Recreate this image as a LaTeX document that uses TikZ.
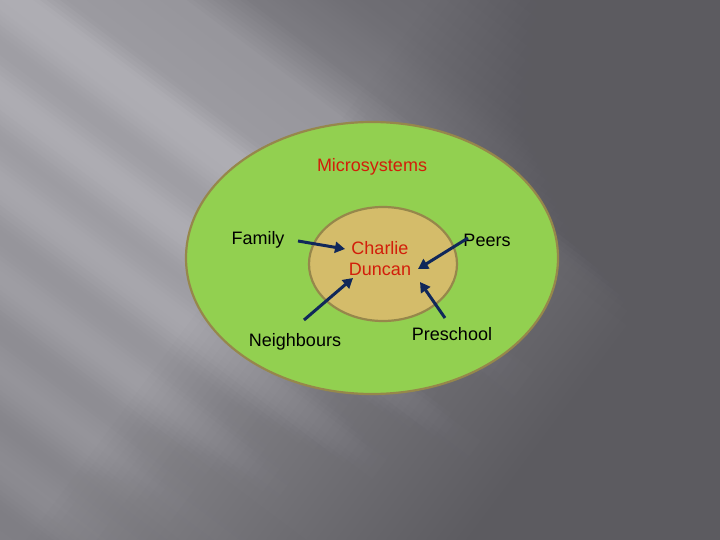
\documentclass[tikz,border=0pt]{standalone}
\usepackage{fontspec}
\setmainfont{Liberation Sans}
\usetikzlibrary{arrows.meta}
\definecolor{bgdark}{RGB}{92,91,96}
\definecolor{outergreen}{RGB}{146,208,80}
\definecolor{innertan}{RGB}{212,188,106}
\definecolor{rimcol}{RGB}{150,135,75}
\definecolor{arrowcol}{RGB}{16,40,90}
\definecolor{txtred}{RGB}{210,30,10}
\tikzset{
  lbl/.style={font=\fontsize{18}{20}\selectfont, text=black, inner sep=1pt},
  redlbl/.style={font=\fontsize{18}{21}\selectfont, text=txtred, inner sep=1pt, align=center},
  link/.style={draw=arrowcol, line width=3pt, -{Triangle[length=10pt,width=11pt]}},
  rim/.style={draw=rimcol, line width=2.2pt},
}
\begin{document}
\begin{tikzpicture}[x=1pt,y=-1pt]
\useasboundingbox (0,0) rectangle (720,540);
% background: light streaks running down to the right
% (s along the streaks, t across them): x = 0.8s - 0.6t, y = 0.6s + 0.8t
\begin{scope}
\clip (0,0) rectangle (720,540);
\fill[bgdark] (0,0) rectangle (720,540);
\foreach \i in {0,...,220} {
  \pgfmathsetmacro\ta{-440+4*\i}
  \pgfmathsetmacro\tb{\ta+5}
  \pgfmathsetmacro\tc{\ta+2}
  \pgfmathsetmacro\L{(\tc<-216) ? (0.03+0.2*(\tc+432)/216) : ((\tc<-150) ? (0.23+0.17*(\tc+216)/66) : ((\tc<-110) ? (0.4+0.32*(\tc+150)/40) : ((\tc<-40) ? (0.72+0.06*(\tc+110)/70) : ((\tc<-20) ? (0.78+0.22*(\tc+40)/20) : 1))))}
  \pgfmathsetmacro\m{(\tc>0) ? (1-0.09*(1-cos(4.8*\tc))) : 1}
  \pgfmathsetmacro\d{1-0.5*min(max((\tc-100)/330,0),1)}
  \pgfmathtruncatemacro\g{92+82*\L*\m*\d}
  \pgfmathtruncatemacro\gg{\g-1}
  \pgfmathtruncatemacro\gb{min(\g+5,255)}
  \definecolor{stripecol}{RGB}{\g,\gg,\gb}
  \fill[stripecol] ({-80-0.6*\ta},{-60+0.8*\ta}) -- ({800-0.6*\ta},{600+0.8*\ta})
     -- ({800-0.6*\tb},{600+0.8*\tb}) -- ({-80-0.6*\tb},{-60+0.8*\tb}) -- cycle;
}
% the streaks fade out towards the lower right
\foreach \k in {1,...,46} {
  \pgfmathsetmacro\sk{345+8*(\k-1)}
  \pgfmathsetmacro\op{1/(47-\k)}
  \fill[bgdark, fill opacity=\op] ({0.8*\sk+300},{0.6*\sk-400}) -- ({960+300},{720-400})
     -- ({960-300},{720+400}) -- ({0.8*\sk-300},{0.6*\sk+400}) -- cycle;
}
\end{scope}
% ellipses
\path[fill=outergreen, rim] (372,258) ellipse [x radius=186, y radius=136];
\path[fill=innertan, rim] (383,264) ellipse [x radius=74, y radius=57];
% labels
\node[redlbl] (micro) at (372,167) {Microsystems};
\node[redlbl] (center) at (380,259) {Charlie\\Duncan};
\node[lbl] (family) at (258,240) {Family};
\node[lbl] (peers) at (487,240) {Peers};
\node[lbl] (neigh) at (295,342) {Neighbours};
\node[lbl] (presch) at (452,334) {Preschool};
% arrow endpoints
\coordinate (fS) at (298,241);
\coordinate (fE) at (345,249);
\coordinate (pS) at (468,238);
\coordinate (pE) at (418,269);
\coordinate (nS) at (304,320);
\coordinate (nE) at (353,278);
\coordinate (sS) at (445,318);
\coordinate (sE) at (420,282);
\draw[link] (fS) -- (fE);
\draw[link] (pS) -- (pE);
\draw[link] (nS) -- (nE);
\draw[link] (sS) -- (sE);
\end{tikzpicture}
\end{document}
